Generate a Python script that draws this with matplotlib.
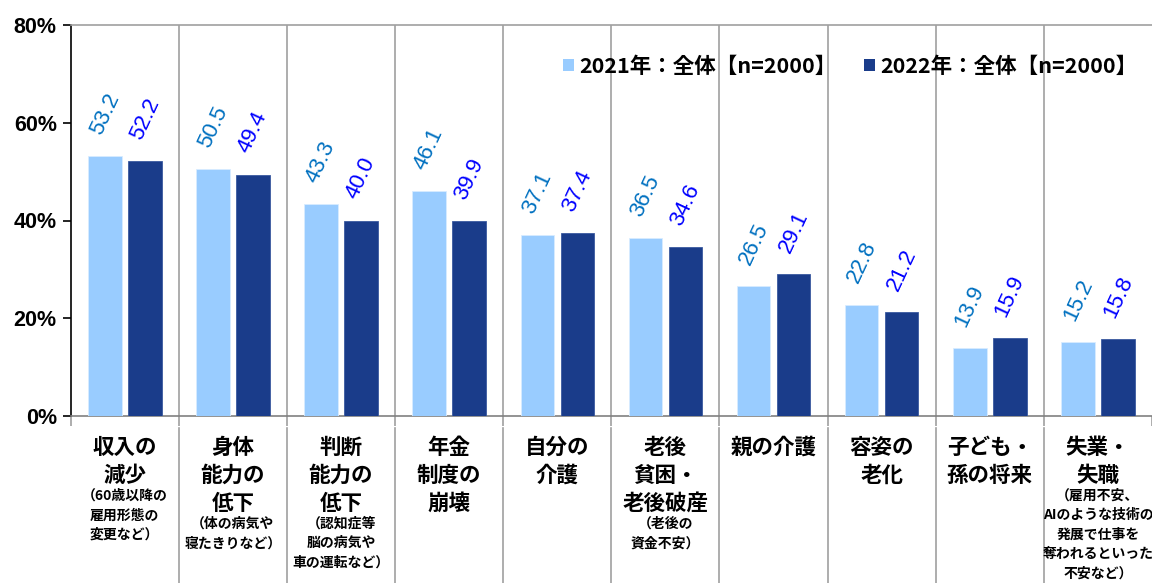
import matplotlib
matplotlib.use("Agg")
import numpy as np
import matplotlib.pyplot as plt
import matplotlib.transforms as mtransforms
from matplotlib.patches import Patch

plt.rcParams['font.family'] = ['Noto Sans CJK JP', 'DejaVu Sans']

# Data
main_labels = [
    ["収入の", "減少"],
    ["身体", "能力の", "低下"],
    ["判断", "能力の", "低下"],
    ["年金", "制度の", "崩壊"],
    ["自分の", "介護"],
    ["老後", "貧困・", "老後破産"],
    ["親の介護"],
    ["容姿の", "老化"],
    ["子ども・", "孫の将来"],
    ["失業・", "失職"],
]
sub_labels = [
    ["（60歳以降の", "雇用形態の", "変更など）"],
    ["（体の病気や", "寝たきりなど）"],
    ["（認知症等", "脳の病気や", "車の運転など）"],
    [],
    [],
    ["（老後の", "資金不安）"],
    [],
    [],
    [],
    ["（雇用不安、", "AIのような技術の", "発展で仕事を", "奪われるといった", "不安など）"],
]
vals_2021 = [53.2, 50.5, 43.3, 46.1, 37.1, 36.5, 26.5, 22.8, 13.9, 15.2]
vals_2022 = [52.2, 49.4, 40.0, 39.9, 37.4, 34.6, 29.1, 21.2, 15.9, 15.8]
series_names = ["2021年：全体【n=2000】", "2022年：全体【n=2000】"]
yticks = [0, 20, 40, 60, 80]

c_light = "#99CCFF"
c_dark = "#1A3C8A"
c_lab1 = "#0070C0"
c_lab2 = "#0000FF"
c_grid = "#A0A0A0"

W, H = 1152, 583
fig = plt.figure(figsize=(W / 100, H / 100), dpi=100)
ax = fig.add_axes([70.7 / W, (H - 416) / H, (W - 70.7) / W, 391 / H])

n = len(vals_2021)
x = np.arange(n)
bw = 0.31
off = 0.185
ax.bar(x - off, vals_2021, bw, color=c_light, edgecolor="#D8ECFF", linewidth=0.6, zorder=3)
ax.bar(x + off, vals_2022, bw, color=c_dark, edgecolor="#3A5AA0", linewidth=0.6, zorder=3)

# rotated value labels above bars
for i in range(n):
    ax.annotate(f"{vals_2021[i]:.1f}", xy=(x[i] - off, vals_2021[i]), xytext=(0, 42),
                textcoords="offset pixels", rotation=65, ha="center", va="center",
                fontsize=16, color=c_lab1, family="Liberation Sans")
    ax.annotate(f"{vals_2022[i]:.1f}", xy=(x[i] + off, vals_2022[i]), xytext=(0, 42),
                textcoords="offset pixels", rotation=65, ha="center", va="center",
                fontsize=16, color=c_lab2, family="Liberation Sans")

ax.set_xlim(-0.5, -0.5 + (W - 70.7) / 109.0)
ax.set_ylim(0, 80)

# separators inside plot
for b in np.arange(0.5, n - 0.5, 1.0):
    ax.axvline(b, color=c_grid, lw=1.2, zorder=1)

ax.spines["right"].set_visible(False)
ax.spines["top"].set_color(c_grid)
ax.spines["top"].set_linewidth(1.2)
ax.spines["left"].set_color("black")
ax.spines["left"].set_linewidth(1.2)
ax.spines["bottom"].set_color("#808080")
ax.spines["bottom"].set_linewidth(1.2)

ax.set_yticks(yticks)
ax.set_yticklabels([f"{v}%" for v in yticks], fontsize=15.5, fontweight="bold",
                   family="Liberation Sans")
ax.tick_params(axis="y", length=6, width=1.2, direction="out", pad=4)
ax.set_xticks(np.arange(-0.5, n, 1.0))
ax.set_xticklabels([])
ax.tick_params(axis="x", length=7, width=1.2, color=c_grid, direction="out")

# separators below axis in label area
trans = mtransforms.blended_transform_factory(ax.transData, fig.transFigure)
for b in np.arange(0.5, n - 0.5, 1.0):
    ax.plot([b, b], [1 - 428 / H, 0], color=c_grid, lw=1.2, transform=trans, clip_on=False)

# category labels
for i in range(n):
    y = 447
    for t in main_labels[i]:
        ax.text(i, 1 - y / H, t, transform=trans, ha="center", va="center",
                fontsize=15.5, fontweight="bold")
        y += 28
    y = y - 28 + 21
    for t in sub_labels[i]:
        ax.text(i, 1 - y / H, t, transform=trans, ha="center", va="center",
                fontsize=10, fontweight="bold")
        y += 19.3

handles = [Patch(facecolor=c_light), Patch(facecolor=c_dark)]
fig.legend(handles, series_names, loc="center left",
           bbox_to_anchor=(563 / W, 1 - 66 / H), ncol=2, frameon=False,
           prop={"size": 15.5, "weight": "bold"}, handlelength=0.5, handleheight=0.5,
           handletextpad=0.25, columnspacing=1.3, borderpad=0, borderaxespad=0)

fig.savefig("out.png", dpi=100)
